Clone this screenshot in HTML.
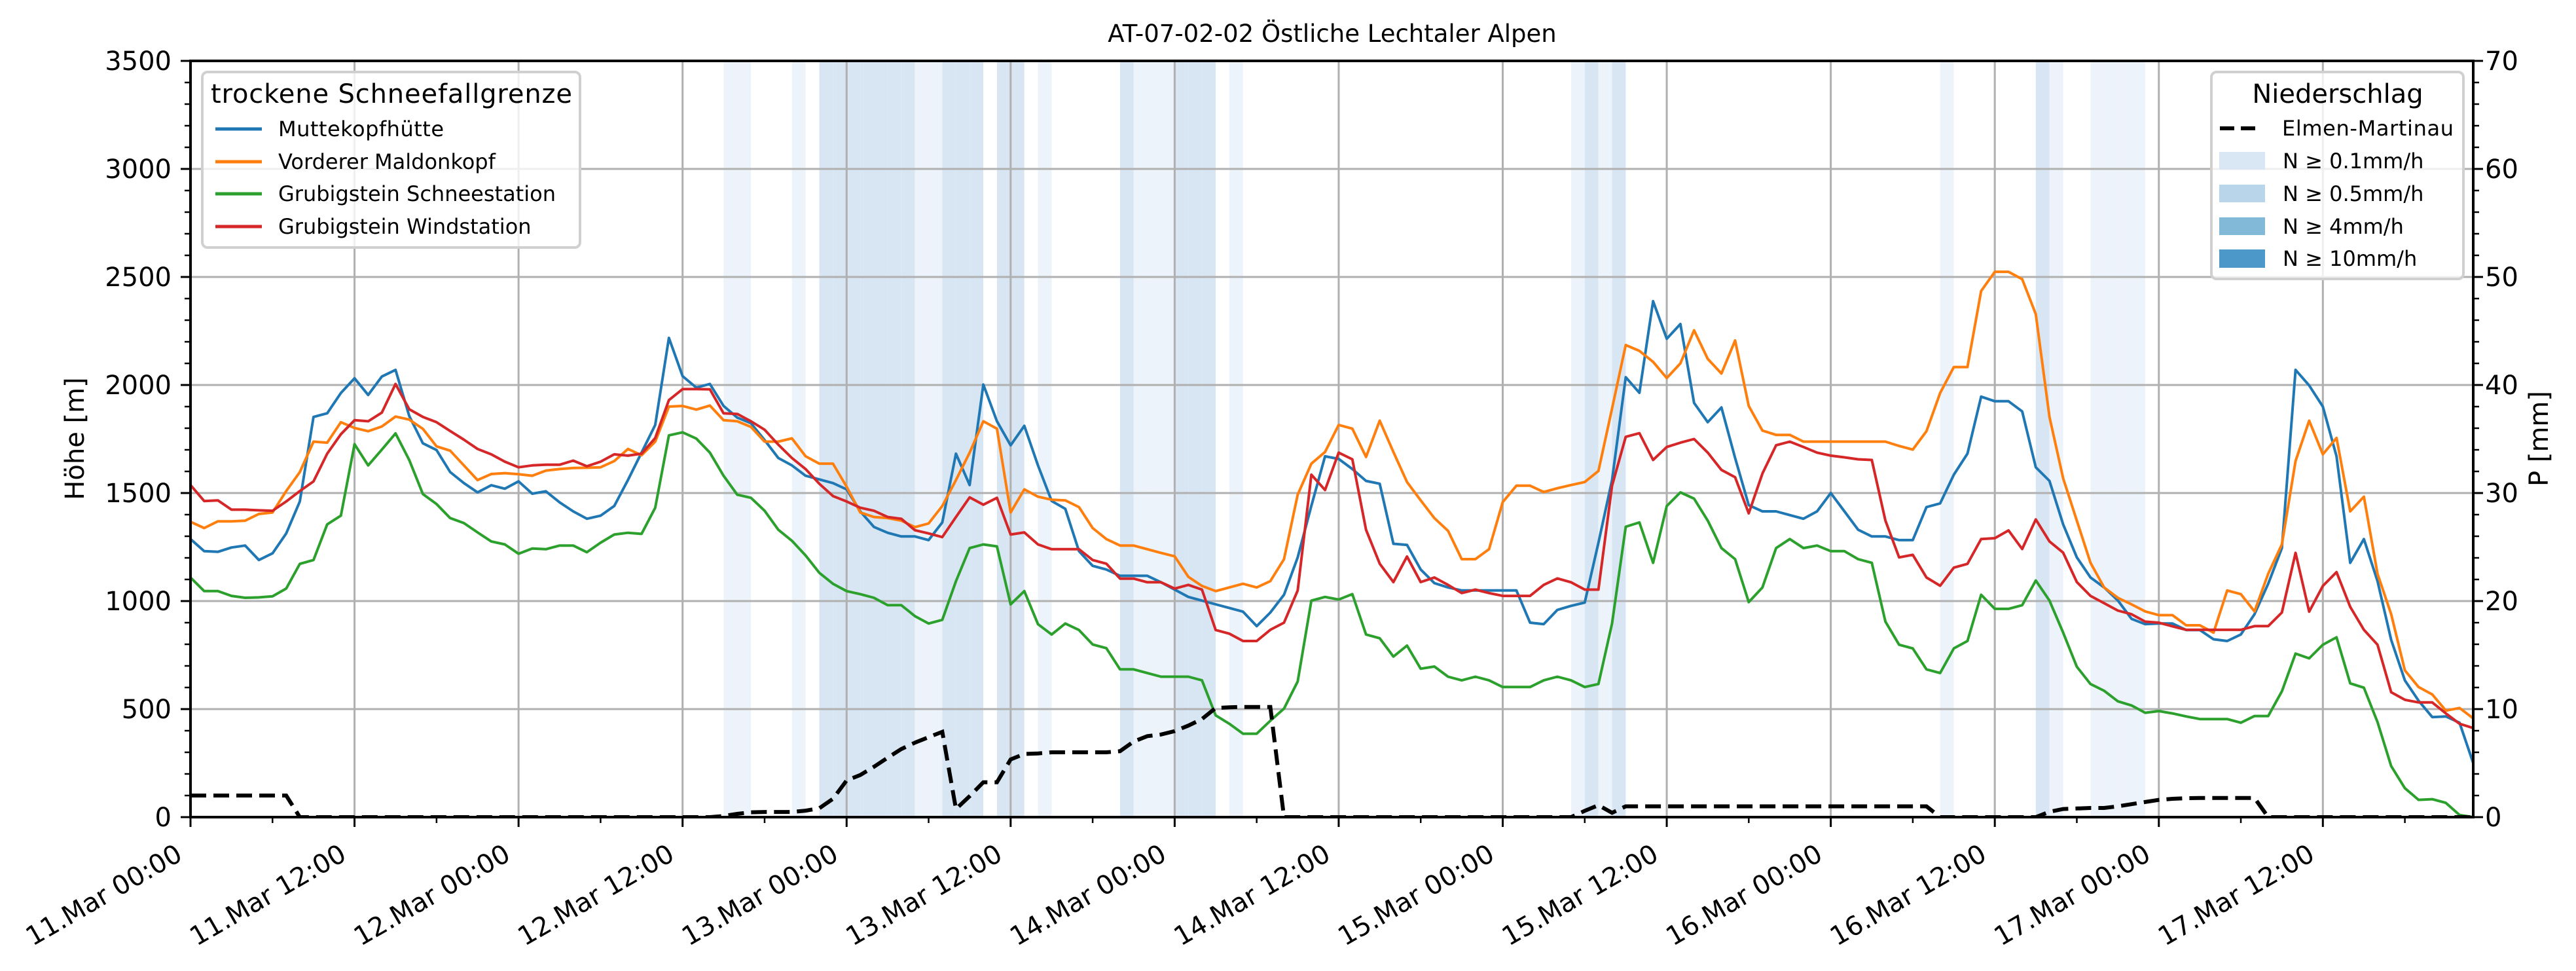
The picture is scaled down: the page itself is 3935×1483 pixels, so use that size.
<!DOCTYPE html>
<html><head><meta charset="utf-8">
<style>
html,body{margin:0;padding:0;background:#fff;}
svg{display:block;font-family:"DejaVu Sans","Liberation Sans",sans-serif;}
</style></head>
<body>
<svg id="chart" xmlns="http://www.w3.org/2000/svg" width="3935" height="1483" viewBox="0 0 3935 1483">
<rect x="0" y="0" width="3935" height="1483" fill="#fff"/>
<g id="bands"></g>
<g id="grid"></g>
<g id="series"></g>
<g id="axes"></g>
<text x="2035" y="64" font-size="37" text-anchor="middle">AT-07-02-02 Östliche Lechtaler Alpen</text>
<text x="128" y="670" font-size="40" text-anchor="middle" transform="rotate(-90 128 670)">Höhe [m]</text>
<text x="3892" y="670" font-size="40" text-anchor="middle" transform="rotate(-90 3892 670)">P [mm]</text>

<g>
<rect x="309" y="110" width="577" height="268" rx="8" fill="#fff" fill-opacity="0.8" stroke="#d0d0d0" stroke-width="4"/>
<text x="322" y="157" font-size="40" textLength="552">trockene Schneefallgrenze</text>
<g><line x1="329" y1="197" x2="400" y2="197" stroke="#1f77b4" stroke-width="5"/><text x="425" y="208" font-size="32" textLength="253">Muttekopfhütte</text></g>
<g><line x1="329" y1="247" x2="400" y2="247" stroke="#ff7f0e" stroke-width="5"/><text x="425" y="258" font-size="32">Vorderer Maldonkopf</text></g>
<g><line x1="329" y1="296" x2="400" y2="296" stroke="#2ca02c" stroke-width="5"/><text x="425" y="307" font-size="32">Grubigstein Schneestation</text></g>
<g><line x1="329" y1="346" x2="400" y2="346" stroke="#d62728" stroke-width="5"/><text x="425" y="357" font-size="32">Grubigstein Windstation</text></g>
</g>

<g>
<rect x="3378" y="110" width="385" height="316" rx="8" fill="#fff" fill-opacity="0.8" stroke="#d0d0d0" stroke-width="4"/>
<text x="3571" y="157" font-size="40" text-anchor="middle">Niederschlag</text>
<g><line x1="3391" y1="196" x2="3449" y2="196" stroke="#000" stroke-width="6" stroke-dasharray="22,10"/><text x="3486" y="207" font-size="32" textLength="262">Elmen-Martinau</text></g>
<g><rect x="3390" y="232" width="70" height="27" fill="#d9e7f4"/><text x="3487" y="257" font-size="32">N ≥ 0.1mm/h</text></g>
<g><rect x="3390" y="282" width="70" height="27" fill="#b9d5ea"/><text x="3487" y="307" font-size="32">N ≥ 0.5mm/h</text></g>
<g><rect x="3390" y="332" width="70" height="27" fill="#82b8d8"/><text x="3487" y="357" font-size="32">N ≥ 4mm/h</text></g>
<g><rect x="3390" y="381" width="70" height="28" fill="#4b98c9"/><text x="3487" y="406" font-size="32">N ≥ 10mm/h</text></g>
</g>
</svg>
<script>
const muttekopf=[1287,1231,1228,1248,1257,1190,1221,1313,1461,1852,1869,1963,2031,1954,2039,2070,1857,1730,1699,1597,1546,1503,1536,1520,1554,1497,1508,1457,1415,1381,1395,1440,1560,1687,1815,2218,2041,1988,2005,1903,1849,1823,1745,
1662,1628,1580,1563,1546,1517,1415,1343,1316,1299,1299,1282,1364,1682,1537,2002,1832,1721,1811,1628,1463,1427,1231,1163,1146,1117,1117,1117,1087,1053,1019,1002,985,968,951,884,947,1029,1202,1441,1670,1658,
1611,1556,1543,1265,1260,1146,1083,1063,1049,1049,1049,1049,1049,900,893,959,978,993,1270,1560,2036,1964,2388,2214,2282,1917,1828,1896,1662,1444,1415,1415,1398,1381,1415,1500,1415,1330,1299,1299,1282,
1282,1435,1452,1585,1682,1946,1925,1925,1878,1619,1556,1355,1202,1109,1063,1003,918,893,896,896,866,866,823,815,845,939,1080,1245,2070,1998,1900,1670,1177,1287,1092,820,633,539,463,466,437,250];
const maldonkopf=[1367,1338,1369,1369,1372,1403,1410,1509,1597,1738,1733,1828,1801,1786,1808,1854,1840,1797,1716,1696,1628,1560,1588,1592,1587,1580,1604,1611,1616,1617,1619,1648,1704,1675,1738,1900,1903,1886,1905,1837,1832,1806,1738,
1738,1753,1670,1636,1636,1529,1410,1389,1384,1372,1342,1359,1440,1560,1687,1832,1798,1410,1517,1483,1469,1466,1435,1338,1287,1257,1257,1240,1223,1207,1112,1070,1046,1063,1080,1063,1092,1194,1492,1636,1690,1815,
1798,1667,1835,1690,1551,1466,1384,1325,1194,1194,1240,1458,1534,1534,1505,1522,1537,1551,1602,1891,2185,2158,2107,2032,2100,2253,2121,2053,2206,1903,1789,1769,1769,1738,1738,1738,1738,1738,1738,1738,1718,
1701,1786,1963,2083,2083,2435,2524,2524,2490,2328,1852,1568,1372,1177,1063,1015,985,952,935,935,888,888,854,1049,1032,952,1126,1262,1648,1835,1679,1755,1415,1483,1126,939,679,602,568,493,505,457];
const schneestation=[1109,1046,1046,1024,1015,1017,1022,1058,1172,1190,1355,1395,1726,1628,1701,1776,1653,1495,1449,1384,1361,1318,1276,1262,1219,1243,1240,1257,1257,1226,1270,1308,1316,1311,1432,1767,1781,1752,1687,1580,1492,1478,1418,
1330,1279,1211,1131,1080,1046,1032,1015,981,981,930,896,913,1092,1245,1262,1253,985,1046,893,845,896,866,799,782,684,684,667,650,650,650,633,471,432,386,386,446,502,628,1002,1019,1007,
1032,845,828,743,794,687,697,650,633,650,633,602,602,602,633,650,633,602,616,896,1344,1364,1177,1440,1503,1474,1372,1245,1194,995,1063,1245,1287,1245,1257,1231,1231,1194,1177,905,798,
781,684,667,781,815,1029,964,964,981,1095,1002,854,696,616,585,536,517,483,491,480,466,454,454,454,437,468,468,582,757,735,798,832,619,599,440,236,134,80,83,66,10,0];
const windstation=[1537,1463,1466,1423,1423,1420,1418,1461,1509,1554,1682,1772,1837,1832,1872,2005,1888,1852,1828,1787,1747,1704,1679,1645,1619,1628,1631,1631,1650,1624,1645,1679,1673,1682,1755,1930,1981,1981,1980,1869,1866,1832,1793,
1724,1662,1611,1543,1486,1461,1432,1418,1389,1381,1328,1313,1296,1389,1480,1446,1478,1308,1318,1262,1240,1240,1240,1190,1173,1104,1104,1087,1087,1058,1075,1053,866,849,815,815,867,900,1049,1585,1514,1687,
1656,1330,1173,1088,1206,1088,1109,1075,1037,1053,1037,1024,1024,1024,1075,1105,1087,1053,1053,1534,1760,1777,1653,1713,1733,1750,1687,1607,1573,1406,1590,1721,1738,1713,1687,1673,1665,1656,1653,1372,1202,
1214,1109,1071,1155,1172,1287,1291,1327,1241,1378,1276,1224,1088,1024,990,956,939,905,900,883,867,867,867,867,867,884,884,947,1223,951,1070,1134,973,867,798,578,543,531,531,480,432,412];
const precipElmen=[2,2,2,2,2,2,2,2,
0,0,0,0,0,0,0,0,0,0,0,0,0,0,0,0,0,0,0,0,0,0,0,0,0,0,0,0,0,0,0,
0.1,0.3,0.45,0.48,0.48,0.48,0.6,0.82,1.7,3.4,3.9,4.66,5.5,6.3,6.9,7.4,7.9,0.75,1.94,3.23,3.23,5.34,5.85,5.9,6,6,6,6,6,6.1,7.0,7.5,7.65,7.96,8.47,9.08,10.1,10.17,10.2,10.2,10.2,
0,0,0,0,0,0,0,0,0,0,0,0,0,0,0,0,0,0,0,0,0,0,
0.58,1.1,0.4,
1,1,1,1,1,1,1,1,1,1,1,1,1,1,1,1,1,1,1,1,1,1,1,
0,0,0,0,0,0,0,0,
0.5,0.75,0.8,0.85,0.85,1.0,1.2,1.4,1.6,1.7,1.75,1.77,1.77,1.77,1.77,1.77,
0,0,0,0,0,0,0,0,0,0,0,0,0,0,0,0];
const bandHours=[39,40,44,46,47,48,49,50,51,52,53,54,55,56,57,59,60,62,68,69,70,71,72,73,74,76,101,102,103,104,128,135,136,139,140,141,142];
const bandLevels=[1,1,1,2,2,2,2,2,2,2,1,1,2,2,2,2,2,1,2,1,1,1,2,2,2,1,1,2,1,2,1,2,1,1,1,1,1];
const xTickLabels=["11.Mar 00:00","11.Mar 12:00","12.Mar 00:00","12.Mar 12:00","13.Mar 00:00","13.Mar 12:00","14.Mar 00:00","14.Mar 12:00","15.Mar 00:00","15.Mar 12:00","16.Mar 00:00","16.Mar 12:00","17.Mar 00:00","17.Mar 12:00"];
const yTicks=[0,500,1000,1500,2000,2500,3000,3500];
const y2Ticks=[0,10,20,30,40,50,60,70];

const NS="http://www.w3.org/2000/svg";
const L=291,R=3778,T=93,B=1248,HMAX=167;
function xs(h){return L+(R-L)*h/HMAX;}
function ys(v){return B-(B-T)*v/3500;}
function ys2(p){return B-(B-T)*p/70;}
function mk(tag,attrs,parent){const e=document.createElementNS(NS,tag);for(const k in attrs)e.setAttribute(k,attrs[k]);parent.appendChild(e);return e;}

const gB=document.getElementById('bands');
const bandColors={1:"#edf3fa",2:"#d8e6f3"};
bandHours.forEach((h,i)=>{
  const r=mk('rect',{x:xs(h),y:T,width:xs(h+1)-xs(h),height:B-T,fill:bandColors[bandLevels[i]]},gB);
  
  
});

const gG=document.getElementById('grid');
for(let i=0;i<xTickLabels.length;i++){
  const x=xs(i*12);
  const l=mk('line',{x1:x,y1:T,x2:x,y2:B,stroke:"#b0b0b0","stroke-width":3},gG);
  
  
}
yTicks.forEach(v=>{
  const l=mk('line',{x1:L,y1:ys(v),x2:R,y2:ys(v),stroke:"#b0b0b0","stroke-width":3},gG);
  
  
});

const gS=document.getElementById('series');
function pathOf(arr,f){return arr.map((v,i)=>(i?'L':'M')+xs(i).toFixed(1)+','+f(v).toFixed(1)).join('');}
const clip=mk('clipPath',{id:'pc'},gS);mk('rect',{x:L,y:T,width:R-L,height:B-T},clip);
const series=[[muttekopf,"#1f77b4","line-muttekopf"],[maldonkopf,"#ff7f0e","line-maldonkopf"],[schneestation,"#2ca02c","line-schneestation"],[windstation,"#d62728","line-windstation"]];
series.forEach(s=>{
  const p=mk('path',{d:pathOf(s[0],ys),fill:"none",stroke:s[1],"stroke-width":4,"stroke-linejoin":"round","clip-path":"url(#pc)"},gS);
  
  
});
const pd=mk('path',{d:pathOf(precipElmen,ys2),fill:"none",stroke:"#000","stroke-width":6,"stroke-dasharray":"24,11","clip-path":"url(#pc)"},gS);



const gA=document.getElementById('axes');
const fr=mk('rect',{x:L,y:T,width:R-L,height:B-T,fill:"none",stroke:"#000","stroke-width":4},gA);


for(let h=0;h<=HMAX;h+=6){
  const major=h%12===0;
  mk('line',{x1:xs(h),y1:B,x2:xs(h),y2:B+(major?15:9),stroke:"#000","stroke-width":major?3:2.5},gA);
}
xTickLabels.forEach((lab,i)=>{
  const x=xs(i*12)-10,y=1312;
  const t=mk('text',{x:x,y:y,"font-size":40,"text-anchor":"end",transform:`rotate(-30 ${x} ${y})`},gA);
  t.textContent=lab;
  
  
});
for(let v=0;v<=3500;v+=100){
  const major=v%500===0;
  mk('line',{x1:L,y1:ys(v),x2:L-(major?15:9),y2:ys(v),stroke:"#000","stroke-width":major?3:2.5},gA);
}
yTicks.forEach(v=>{
  const t=mk('text',{x:262,y:ys(v)+14,"font-size":40,"text-anchor":"end"},gA);
  t.textContent=String(v);
  
  
});
for(let p=0;p<=70;p+=2){
  const major=p%10===0;
  mk('line',{x1:R,y1:ys2(p),x2:R+(major?15:9),y2:ys2(p),stroke:"#000","stroke-width":major?3:2.5},gA);
}
y2Ticks.forEach(p=>{
  const t=mk('text',{x:3796,y:ys2(p)+14,"font-size":40,"text-anchor":"start"},gA);
  t.textContent=String(p);
  
  
});
</script>
</body></html>
